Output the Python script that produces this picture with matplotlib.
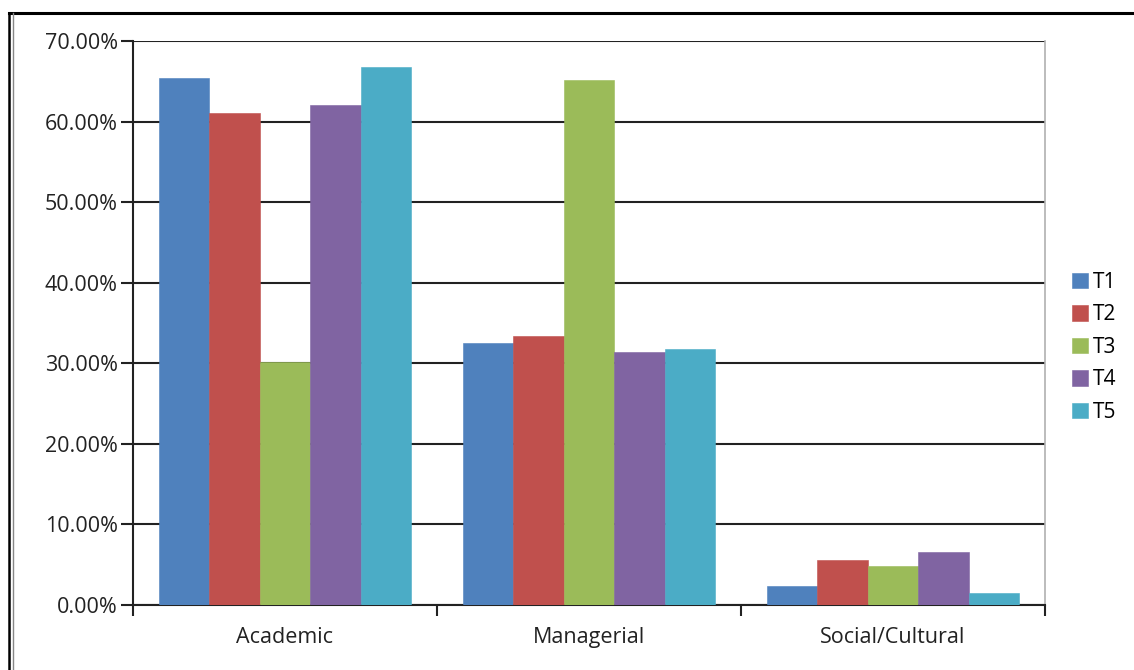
import matplotlib.pyplot as plt
import numpy as np
from matplotlib.lines import Line2D
from matplotlib.ticker import FuncFormatter

plt.rcParams['font.family'] = ['Open Sans', 'DejaVu Sans']

categories = ["Academic", "Managerial", "Social/Cultural"]
series = ["T1", "T2", "T3", "T4", "T5"]
t1 = [65.4, 32.5, 2.3]
t2 = [61.1, 33.4, 5.6]
t3 = [30.2, 65.2, 4.8]
t4 = [62.1, 31.4, 6.6]
t5 = [66.8, 31.8, 1.5]
values = [t1, t2, t3, t4, t5]
colors = ["#4F81BD", "#C0504D", "#9BBB59", "#8064A2", "#4BACC6"]

fig = plt.figure(figsize=(11.34, 6.70), dpi=100)
ax = fig.add_axes([133/1134, 1-605/670, (1045-133)/1134, (605-41)/670])

x = np.arange(len(categories))
w = 0.166
for i, (name, vals) in enumerate(zip(series, values)):
    ax.bar(x + (i - 2) * w, vals, width=w, color=colors[i], label=name,
           edgecolor=colors[i], linewidth=0.4, zorder=3)

ax.set_xlim(-0.5, 2.5)
ax.set_ylim(0, 70)
ax.set_yticks(np.arange(0, 71, 10))
ax.yaxis.set_major_formatter(FuncFormatter(lambda v, p: f"{v:.2f}%"))
ax.grid(axis='y', color='#222222', linewidth=1.5, zorder=0)
ax.set_xticks(x)
ax.set_xticklabels(categories)
ax.set_xticks([-0.5, 0.5, 1.5, 2.5], minor=True)
ax.tick_params(axis='x', which='major', length=0, labelsize=15.5, pad=16, colors='#222222')
ax.tick_params(axis='x', which='minor', length=8, width=1.5, direction='out', color='#222222')
ax.tick_params(axis='y', length=9, width=1.5, labelsize=15.5, pad=2, colors='#222222')

for s in ['left', 'bottom']:
    ax.spines[s].set_linewidth(1.5)
    ax.spines[s].set_color('#222222')
ax.spines['top'].set_visible(False)
ax.spines['right'].set_color('#b0b0b0')
ax.spines['right'].set_linewidth(1.2)

ax.legend(loc='center left', bbox_to_anchor=(1.021, 0.457), frameon=False,
          fontsize=15, handlelength=0.75, handleheight=0.75, handletextpad=0.25,
          labelspacing=0.55, borderaxespad=0)

# outer frame
fig.add_artist(Line2D([9/1134, 1], [1-13/670, 1-13/670], color='black', linewidth=2.2))
fig.add_artist(Line2D([9/1134, 9/1134], [0, 1-13/670], color='black', linewidth=1.8))
fig.add_artist(Line2D([12.5/1134, 12.5/1134], [0, 1-13/670], color='#888888', linewidth=1.0))

fig.savefig("out.png", dpi=100)
